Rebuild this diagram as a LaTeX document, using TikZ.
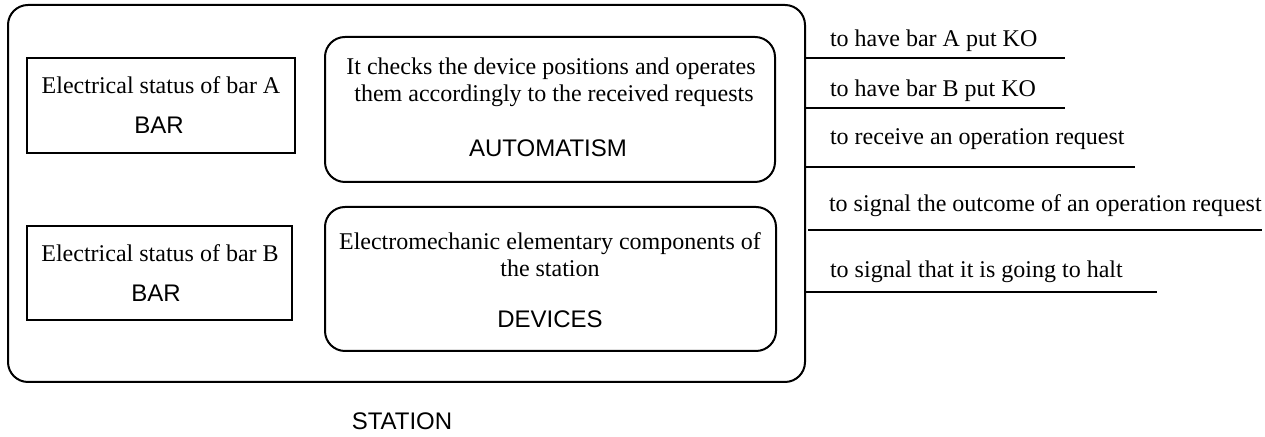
\documentclass[tikz,border=0pt]{standalone}
\usepackage{fontspec}
\setmainfont{Liberation Serif}
\setsansfont{Liberation Sans}
\usetikzlibrary{positioning}

\begin{document}
\begin{tikzpicture}[x=0.5pt, y=-0.5pt,
    frame/.style={draw, line width=1pt, rounded corners=10pt, inner sep=0pt, outer sep=0pt},
    barbox/.style={draw, line width=0.8pt, inner sep=0pt, outer sep=0pt},
    desc/.style={font=\fontsize{12}{13.5}\selectfont, align=center, anchor=base},
    tag/.style={font=\fontsize{12}{14}\selectfont\sffamily, anchor=base},
    sig/.style={font=\fontsize{12}{14}\selectfont, anchor=base west},
    wire/.style={line width=1pt}]
    \useasboundingbox (0,0) rectangle (1265,437);

    % === Station frame ===
    \node[frame, minimum width=398.5pt, minimum height=188.5pt] (station) at (406.5,193.5) {};
    \node[tag] (stationtag) at (402,430) {STATION};

    % === Bars ===
    \node[barbox, minimum width=134pt, minimum height=47.5pt] (barA) at (161,105.5) {};
    \node[desc] (barAdesc) at (161,94) {Electrical status of bar A};
    \node[tag] (barAtag) at (159,134) {BAR};

    \node[barbox, minimum width=132.5pt, minimum height=47pt] (barB) at (159.5,273) {};
    \node[desc] (barBdesc) at (160,262) {Electrical status of bar B};
    \node[tag] (barBtag) at (156,302) {BAR};

    % === Automatism and devices ===
    % (base of a two-line node = base of its last line)
    \node[frame, minimum width=225pt, minimum height=72.5pt] (autom) at (550,109.5) {};
    \node[desc] (automdesc) at (551,102) {It checks the device positions and operates\\
        \ them accordingly to the received requests};
    \node[tag] (automtag) at (548,157) {AUTOMATISM};

    \node[frame, minimum width=225.5pt, minimum height=72pt] (dev) at (550.5,279) {};
    \node[desc] (devdesc) at (550,277) {Electromechanic elementary components of\\
        the station};
    \node[tag] (devtag) at (550,328) {DEVICES};

    % === Signals on the right side ===
    \draw[wire] (station.east |- 0,58) -- (1065,58);
    \draw[wire] (station.east |- 0,108) -- (1065,108);
    \draw[wire] (station.east |- 0,167) -- (1135,167);
    \draw[wire] (808,230) -- (1262,230);
    \draw[wire] (station.east |- 0,292) -- (1157,292);

    \node[sig] (sigA) at (823,47) {to have bar A put KO};
    \node[sig] (sigB) at (823,97) {to have bar B put KO};
    \node[sig] (sigreq) at (823,145) {to receive an operation request};
    \node[sig] (sigout) at (822,212) {to signal the outcome of an operation request};
    \node[sig] (sighalt) at (823,278) {to signal that it is going to halt};
\end{tikzpicture}
\end{document}
